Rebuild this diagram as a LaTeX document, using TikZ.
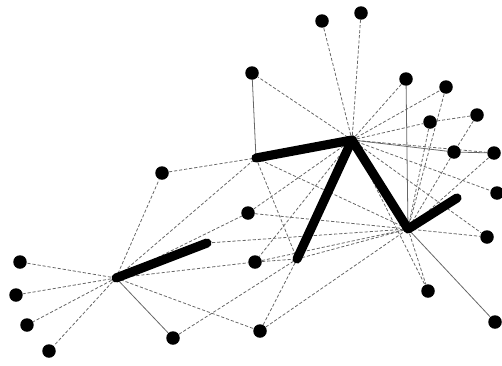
\documentclass[tikz,border=0pt]{standalone}
\usepackage{tikz}
\usetikzlibrary{backgrounds}

\begin{document}
\begin{tikzpicture}[x=0.02cm,y=-0.02cm,
  dot/.style={circle,fill=black,inner sep=0pt,minimum size=0.27cm},
  hub/.style={coordinate},
  link/.style={draw=black!60,line width=0.45pt,dash pattern=on 1.8pt off 1.1pt},
  wire/.style={draw=black!60,line width=0.45pt},
  tie/.style={draw=black,line width=5.2pt,line cap=round,line join=round}
]
  \useasboundingbox (0,0) rectangle (502,365);
  % ends of the heavy path
  \node[hub] (lhub) at (116,278) {};
  \node[hub] (lend) at (207,243) {};
  \node[hub] (tleft) at (256,158) {};
  \node[hub] (top) at (352,140) {};
  \node[hub] (tfoot) at (297,259) {};
  \node[hub] (rhub) at (408,229) {};
  \node[hub] (rend) at (457,198) {};
  % single dots
  \node[dot] (t1) at (322,21) {};
  \node[dot] (t2) at (361,13) {};
  \node[dot] (t3) at (252,73) {};
  \node[dot] (r1) at (406,79) {};
  \node[dot] (r2) at (446,87) {};
  \node[dot] (r3) at (430,122) {};
  \node[dot] (r4) at (477,115) {};
  \node[dot] (r5) at (454,152) {};
  \node[dot] (r6) at (494,153) {};
  \node[dot] (r7) at (497,193) {};
  \node[dot] (r8) at (487,237) {};
  \node[dot] (r9) at (428,291) {};
  \node[dot] (r10) at (495,322) {};
  \node[dot] (m1) at (162,173) {};
  \node[dot] (m2) at (248,213) {};
  \node[dot] (m3) at (255,262) {};
  \node[dot] (b1) at (260,331) {};
  \node[dot] (b2) at (173,338) {};
  \node[dot] (l1) at (20,262) {};
  \node[dot] (l2) at (16,295) {};
  \node[dot] (l3) at (27,325) {};
  \node[dot] (l4) at (49,351) {};

  \begin{scope}[on background layer]
    % thin links
    \foreach \a/\b in {lhub/l1,lhub/l2,lhub/l3,lhub/l4,lhub/m1,lhub/tleft,lhub/m2,lhub/m3,lhub/b1,
      m1/tleft,tleft/tfoot,tleft/rhub,top/t1,top/t2,top/t3,top/r1,top/r2,top/r3,top/r6,top/r7,top/r8,
      top/m2,top/m3,top/r9,r2/rhub,r3/rhub,r3/r4,r4/r5,r5/rhub,r6/rhub,rhub/r8,rhub/r9,m2/rhub,
      lend/rhub,m3/rhub,m3/tfoot,tfoot/rhub,b1/rhub,b1/tfoot,b2/tfoot}
      \draw[link] (\a) -- (\b);
    \foreach \a/\b in {lhub/b2,t3/tleft,r1/rhub,rhub/r10,r5/r6,top/r5}
      \draw[wire] (\a) -- (\b);
    % heavy path
    \draw[tie] (lhub) -- (lend);
    \draw[tie] (tleft) -- (top) -- (tfoot);
    \draw[tie] (top) -- (rhub) -- (rend);
  \end{scope}
\end{tikzpicture}
\end{document}
